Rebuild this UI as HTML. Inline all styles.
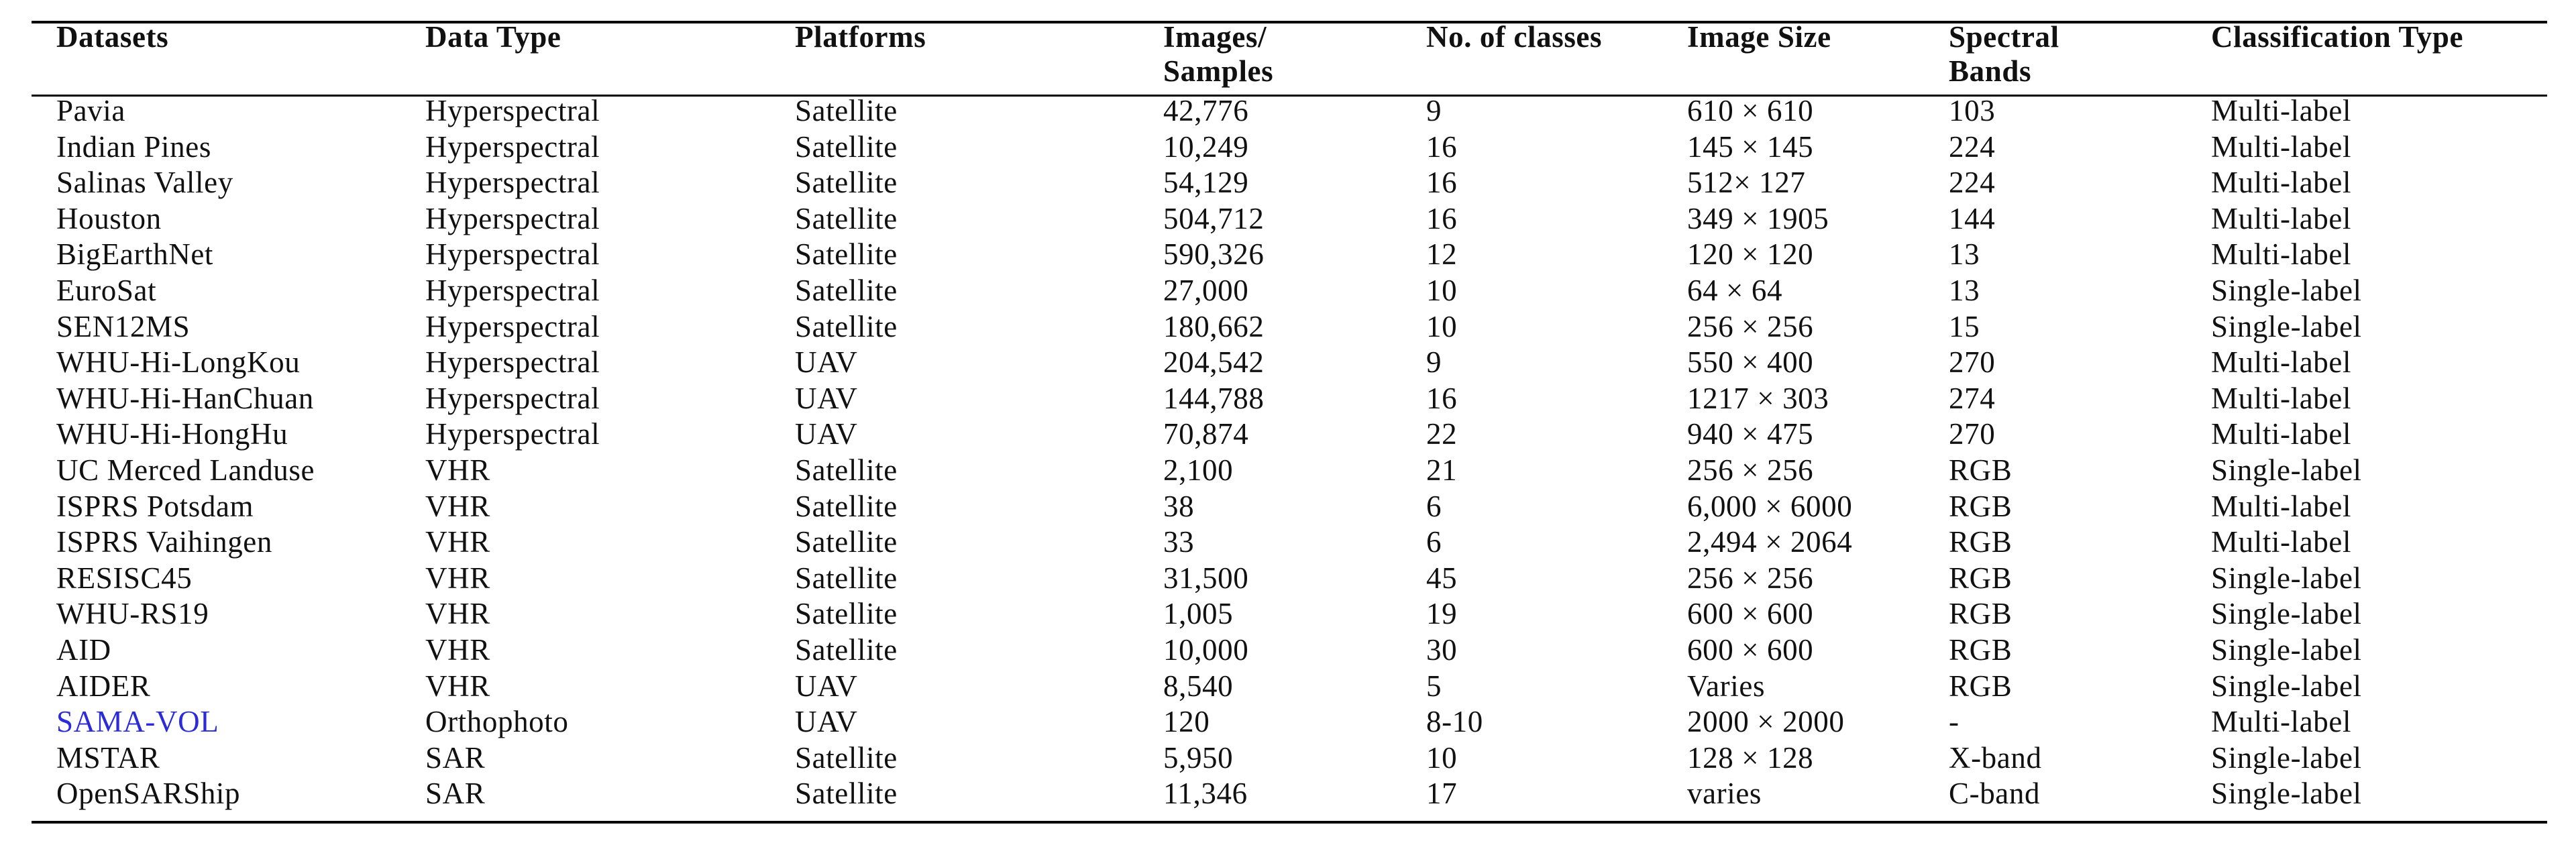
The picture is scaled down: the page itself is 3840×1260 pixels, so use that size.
<!DOCTYPE html>
<html><head><meta charset="utf-8"><style>
html,body{margin:0;padding:0;background:#fff;}
body{width:3840px;height:1260px;position:relative;overflow:hidden;font-family:"Liberation Serif",serif;font-size:45px;color:#111;}
.r{position:absolute;left:47px;width:3750px;background:#000;}
.t{position:absolute;white-space:nowrap;line-height:1;letter-spacing:0.6px;}
.h{font-weight:bold;}
</style></head><body>
<div class="r" style="top:31px;height:4px"></div>
<div class="r" style="top:141px;height:3px"></div>
<div class="r" style="top:1224px;height:4px"></div>
<div id="c"></div>
<script>
var X=[84,634,1185,1734,2126,2515,2905,3296];
var H=[["Datasets"],["Data Type"],["Platforms"],["Images/","Samples"],["No. of classes"],["Image Size"],["Spectral","Bands"],["Classification Type"]];
var R=[
["Pavia","Hyperspectral","Satellite","42,776","9","610 × 610","103","Multi-label"],
["Indian Pines","Hyperspectral","Satellite","10,249","16","145 × 145","224","Multi-label"],
["Salinas Valley","Hyperspectral","Satellite","54,129","16","512× 127","224","Multi-label"],
["Houston","Hyperspectral","Satellite","504,712","16","349 × 1905","144","Multi-label"],
["BigEarthNet","Hyperspectral","Satellite","590,326","12","120 × 120","13","Multi-label"],
["EuroSat","Hyperspectral","Satellite","27,000","10","64 × 64","13","Single-label"],
["SEN12MS","Hyperspectral","Satellite","180,662","10","256 × 256","15","Single-label"],
["WHU-Hi-LongKou","Hyperspectral","UAV","204,542","9","550 × 400","270","Multi-label"],
["WHU-Hi-HanChuan","Hyperspectral","UAV","144,788","16","1217 × 303","274","Multi-label"],
["WHU-Hi-HongHu","Hyperspectral","UAV","70,874","22","940 × 475","270","Multi-label"],
["UC Merced Landuse","VHR","Satellite","2,100","21","256 × 256","RGB","Single-label"],
["ISPRS Potsdam","VHR","Satellite","38","6","6,000 × 6000","RGB","Multi-label"],
["ISPRS Vaihingen","VHR","Satellite","33","6","2,494 × 2064","RGB","Multi-label"],
["RESISC45","VHR","Satellite","31,500","45","256 × 256","RGB","Single-label"],
["WHU-RS19","VHR","Satellite","1,005","19","600 × 600","RGB","Single-label"],
["AID","VHR","Satellite","10,000","30","600 × 600","RGB","Single-label"],
["AIDER","VHR","UAV","8,540","5","Varies","RGB","Single-label"],
["SAMA-VOL","Orthophoto","UAV","120","8-10","2000 × 2000","-","Multi-label"],
["MSTAR","SAR","Satellite","5,950","10","128 × 128","X-band","Single-label"],
["OpenSARShip","SAR","Satellite","11,346","17","varies","C-band","Single-label"]];
var s="";
// baseline -> top: ascent approx 0.89*45=40
H.forEach(function(h,i){h.forEach(function(l,j){s+='<div class="t h" style="left:'+X[i]+'px;top:'+(73-40+j*51)+'px">'+l+'</div>';});});
R.forEach(function(r,k){var b=183+k*53.6;r.forEach(function(c,i){var col=(k==17&&i==0)?'color:#2b2bdc;':'';s+='<div class="t" style="'+col+'left:'+X[i]+'px;top:'+(b-40).toFixed(1)+'px">'+c+'</div>';});});
document.getElementById("c").innerHTML=s;
</script>
</body></html>
